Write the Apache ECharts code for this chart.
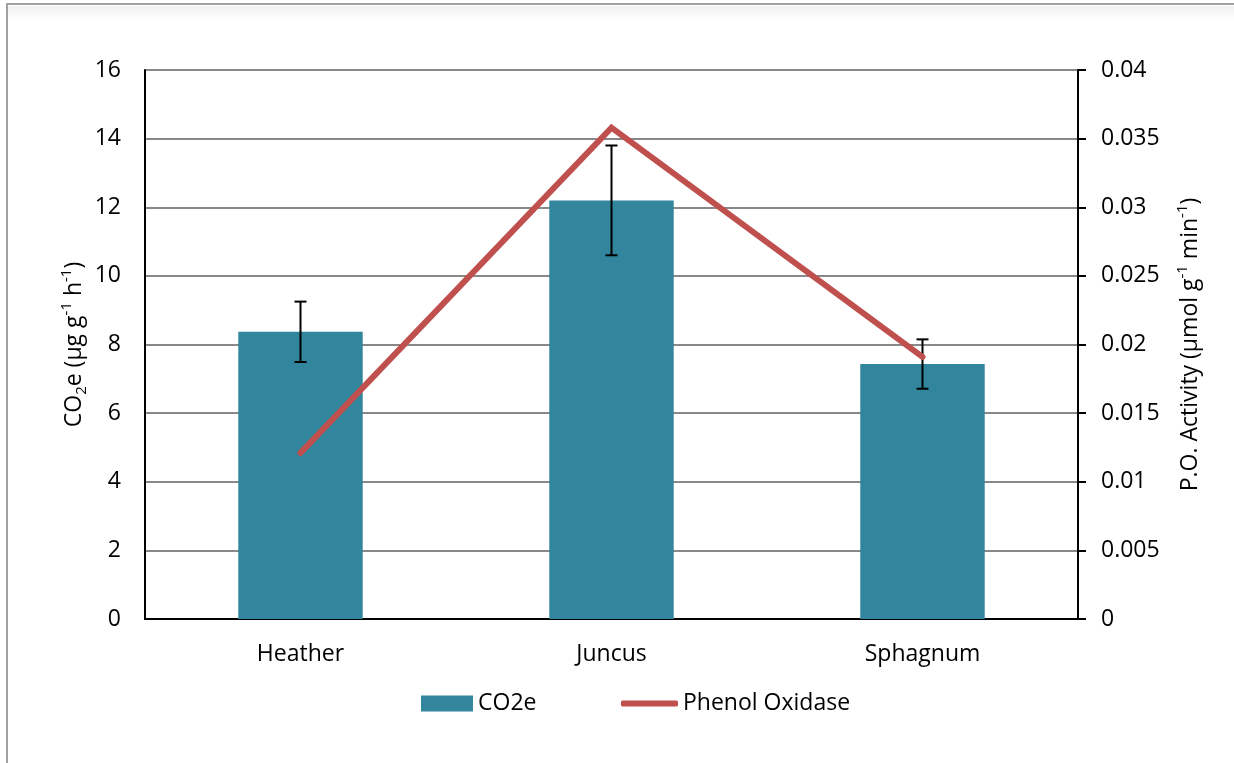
<!DOCTYPE html>
<html>
<head>
<meta charset="utf-8">
<script src="https://cdn.jsdelivr.net/npm/echarts@6/dist/echarts.min.js"></script>
<style>
html,body{margin:0;padding:0;background:#fff;}
#chart{width:1234px;height:763px;}
</style>
</head>
<body>
<div id="chart"></div>
<script>
const categories = ['Heather', 'Juncus', 'Sphagnum'];
const co2e = [8.37, 12.2, 7.43];
const co2eErr = [0.88, 1.6, 0.72];
const phenolOxidase = [0.0121, 0.0358, 0.0191];
const leftTicks = [0, 2, 4, 6, 8, 10, 12, 14, 16];
const rightTicks = [0, 0.005, 0.01, 0.015, 0.02, 0.025, 0.03, 0.035, 0.04];

const FONT = 'Open Sans';
const FS = 23;
const chart = echarts.init(document.getElementById('chart'));

const errData = categories.map((c, i) => [i, co2e[i] - co2eErr[i], co2e[i] + co2eErr[i]]);

const option = {
  backgroundColor: '#fff',
  textStyle: { fontFamily: FONT, color: '#000' },
  animation: false,
  graphic: [
    { type: 'rect', shape: { x: 7, y: 4, width: 1240, height: 780 }, style: { fill: 'none', stroke: '#a0a0a0', lineWidth: 2 }, silent: true },
    { type: 'rect', shape: { x: 8, y: 6, width: 1230, height: 14 }, style: { fill: new echarts.graphic.LinearGradient(0, 0, 0, 1, [{ offset: 0, color: 'rgba(0,0,0,0.06)' }, { offset: 1, color: 'rgba(0,0,0,0)' }]) }, silent: true }
  ],
  grid: { left: 145, right: 156, top: 70, bottom: 144, containLabel: false },
  legend: [
    {
      data: ['CO2e'], left: 421, top: 692, padding: 0, itemWidth: 52, itemHeight: 16, icon: 'rect',
      textStyle: { fontFamily: FONT, fontSize: FS, color: '#000' }
    },
    {
      data: ['Phenol Oxidase'], left: 621, top: 692, padding: 0, itemWidth: 57, itemHeight: 6, icon: 'roundRect',
      itemStyle: { color: '#c0504d' },
      textStyle: { fontFamily: FONT, fontSize: FS, color: '#000' }
    }
  ],
  xAxis: {
    type: 'category', data: categories,
    axisLine: { lineStyle: { color: '#000', width: 2 } },
    axisTick: { show: false },
    axisLabel: { fontFamily: FONT, fontSize: FS, color: '#000', margin: 24 }
  },
  yAxis: [
    {
      type: 'value', min: 0, max: 16, interval: 2, position: 'left',
      name: 'CO{sub|2}e (µg g{sup|-1} h{sup|-1})',
      nameLocation: 'middle', nameRotate: 90, nameGap: 56, nameMoveOverlap: false,
      nameTextStyle: {
        fontFamily: FONT, fontSize: FS, color: '#000', lineHeight: 30,
        rich: {
          sub: { fontFamily: FONT, fontSize: 15, verticalAlign: 'bottom', lineHeight: 14, color: '#000' },
          sup: { fontFamily: FONT, fontSize: 15, verticalAlign: 'top', lineHeight: 14, color: '#000' }
        }
      },
      axisLine: { show: true, lineStyle: { color: '#000', width: 2 } },
      axisTick: { show: false },
      axisLabel: { fontFamily: FONT, fontSize: FS, color: '#000', margin: 24, formatter: v => leftTicks.includes(v) ? String(v) : '' },
      splitLine: { show: true, lineStyle: { color: '#888', width: 2 } }
    },
    {
      type: 'value', min: 0, max: 0.04, interval: 0.005, position: 'right',
      name: 'P.O. Activity (µmol g{sup|-1} min{sup|-1})',
      nameLocation: 'middle', nameRotate: 90, nameGap: 97, nameMoveOverlap: false,
      nameTextStyle: {
        fontFamily: FONT, fontSize: FS, color: '#000', lineHeight: 30,
        rich: {
          sup: { fontFamily: FONT, fontSize: 15, verticalAlign: 'top', lineHeight: 14, color: '#000' }
        }
      },
      axisLine: { show: true, lineStyle: { color: '#000', width: 2 } },
      axisTick: { show: true, length: 8, lineStyle: { color: '#000', width: 2 } },
      axisLabel: { fontFamily: FONT, fontSize: FS, color: '#000', margin: 23, formatter: v => rightTicks.some(t => Math.abs(t - v) < 1e-9) ? String(+v.toFixed(3)) : '' },
      splitLine: { show: false }
    }
  ],
  series: [
    {
      name: 'CO2e', type: 'bar', data: co2e, barWidth: '40%', yAxisIndex: 0,
      itemStyle: { color: '#31859c' }, z: 2
    },
    {
      name: 'errors', type: 'custom', yAxisIndex: 0, data: errData, z: 3,
      renderItem: function (params, api) {
        const x = api.value(0);
        const lo = api.coord([x, api.value(1)]);
        const hi = api.coord([x, api.value(2)]);
        const hw = 6;
        const st = { stroke: '#000', lineWidth: 2 };
        return {
          type: 'group',
          children: [
            { type: 'line', shape: { x1: lo[0], y1: lo[1], x2: hi[0], y2: hi[1] }, style: st },
            { type: 'line', shape: { x1: lo[0] - hw, y1: lo[1], x2: lo[0] + hw, y2: lo[1] }, style: st },
            { type: 'line', shape: { x1: hi[0] - hw, y1: hi[1], x2: hi[0] + hw, y2: hi[1] }, style: st }
          ]
        };
      }
    },
    {
      name: 'Phenol Oxidase', type: 'line', data: phenolOxidase, yAxisIndex: 1,
      symbol: 'none', z: 4,
      lineStyle: { color: '#c0504d', width: 6, cap: 'round', join: 'miter' },
      itemStyle: { color: '#c0504d' }
    }
  ]
};
chart.setOption(option);
</script>
</body>
</html>
